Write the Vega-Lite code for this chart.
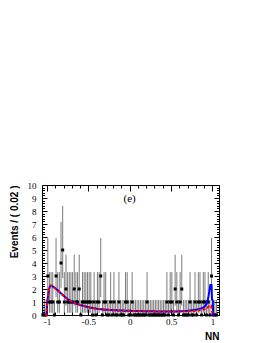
{
  "$schema": "https://vega.github.io/schema/vega-lite/v6.json",
  "width": 177,
  "height": 130,
  "autosize": "none",
  "padding": {"left": 42, "top": 185, "right": 46, "bottom": 28},
  "background": "white",
  "config": {
    "view": {"stroke": "black", "strokeWidth": 1},
    "axis": {"domain": false, "grid": false, "tickColor": "black", "tickWidth": 1, "labelFont": "Liberation Serif", "labelFontSize": 9, "labelColor": "black", "titleFont": "Liberation Sans", "titleFontWeight": "bold", "titleFontSize": 10, "titleColor": "black", "labelOverlap": false, "labelFlush": false}
  },
  "datasets": {
    "bins": [
      {"nn":-1.05,"n":0,"lo":0,"hi":1.15},{"nn":-1.03,"n":0,"lo":0,"hi":1.15},{"nn":-1.01,"n":0,"lo":0,"hi":1.15},
      {"nn":-0.99,"n":3,"lo":1.37,"hi":5.92},{"nn":-0.97,"n":1,"lo":0.17,"hi":3.3},{"nn":-0.95,"n":1,"lo":0.17,"hi":3.3},
      {"nn":-0.93,"n":1,"lo":0.17,"hi":3.3},{"nn":-0.91,"n":0,"lo":0,"hi":1.15},{"nn":-0.89,"n":3,"lo":1.37,"hi":5.92},
      {"nn":-0.87,"n":1,"lo":0.17,"hi":3.3},{"nn":-0.85,"n":1,"lo":0.17,"hi":3.3},{"nn":-0.83,"n":4,"lo":2.09,"hi":7.16},
      {"nn":-0.81,"n":5,"lo":2.84,"hi":8.38},{"nn":-0.79,"n":1,"lo":0.17,"hi":3.3},{"nn":-0.77,"n":2,"lo":0.71,"hi":4.64},
      {"nn":-0.75,"n":1,"lo":0.17,"hi":3.3},{"nn":-0.73,"n":1,"lo":0.17,"hi":3.3},{"nn":-0.71,"n":1,"lo":0.17,"hi":3.3},
      {"nn":-0.69,"n":1,"lo":0.17,"hi":3.3},{"nn":-0.67,"n":2,"lo":0.71,"hi":4.64},{"nn":-0.65,"n":1,"lo":0.17,"hi":3.3},
      {"nn":-0.63,"n":1,"lo":0.17,"hi":3.3},{"nn":-0.61,"n":2,"lo":0.71,"hi":4.64},{"nn":-0.59,"n":0,"lo":0,"hi":1.15},
      {"nn":-0.57,"n":1,"lo":0.17,"hi":3.3},{"nn":-0.55,"n":1,"lo":0.17,"hi":3.3},{"nn":-0.53,"n":1,"lo":0.17,"hi":3.3},
      {"nn":-0.51,"n":1,"lo":0.17,"hi":3.3},{"nn":-0.49,"n":1,"lo":0.17,"hi":3.3},{"nn":-0.47,"n":1,"lo":0.17,"hi":3.3},
      {"nn":-0.45,"n":0,"lo":0,"hi":1.15},{"nn":-0.43,"n":1,"lo":0.17,"hi":3.3},{"nn":-0.41,"n":0,"lo":0,"hi":1.15},
      {"nn":-0.39,"n":1,"lo":0.17,"hi":3.3},{"nn":-0.37,"n":1,"lo":0.17,"hi":3.3},{"nn":-0.35,"n":3,"lo":1.37,"hi":5.92},
      {"nn":-0.33,"n":0,"lo":0,"hi":1.15},{"nn":-0.31,"n":1,"lo":0.17,"hi":3.3},{"nn":-0.29,"n":1,"lo":0.17,"hi":3.3},
      {"nn":-0.27,"n":0,"lo":0,"hi":1.15},{"nn":-0.25,"n":0,"lo":0,"hi":1.15},{"nn":-0.23,"n":1,"lo":0.17,"hi":3.3},
      {"nn":-0.21,"n":0,"lo":0,"hi":1.15},{"nn":-0.19,"n":1,"lo":0.17,"hi":3.3},{"nn":-0.17,"n":0,"lo":0,"hi":1.15},
      {"nn":-0.15,"n":0,"lo":0,"hi":1.15},{"nn":-0.13,"n":1,"lo":0.17,"hi":3.3},{"nn":-0.11,"n":0,"lo":0,"hi":1.15},
      {"nn":-0.09,"n":0,"lo":0,"hi":1.15},{"nn":-0.07,"n":0,"lo":0,"hi":1.15},{"nn":-0.05,"n":1,"lo":0.17,"hi":3.3},
      {"nn":-0.03,"n":1,"lo":0.17,"hi":3.3},{"nn":-0.01,"n":0,"lo":0,"hi":1.15},{"nn":0.01,"n":0,"lo":0,"hi":1.15},
      {"nn":0.03,"n":1,"lo":0.17,"hi":3.3},{"nn":0.05,"n":0,"lo":0,"hi":1.15},{"nn":0.07,"n":0,"lo":0,"hi":1.15},
      {"nn":0.09,"n":0,"lo":0,"hi":1.15},{"nn":0.11,"n":0,"lo":0,"hi":1.15},{"nn":0.13,"n":0,"lo":0,"hi":1.15},
      {"nn":0.15,"n":0,"lo":0,"hi":1.15},{"nn":0.17,"n":0,"lo":0,"hi":1.15},{"nn":0.19,"n":0,"lo":0,"hi":1.15},
      {"nn":0.21,"n":1,"lo":0.17,"hi":3.3},{"nn":0.23,"n":0,"lo":0,"hi":1.15},{"nn":0.25,"n":0,"lo":0,"hi":1.15},
      {"nn":0.27,"n":0,"lo":0,"hi":1.15},{"nn":0.29,"n":0,"lo":0,"hi":1.15},{"nn":0.31,"n":0,"lo":0,"hi":1.15},
      {"nn":0.33,"n":0,"lo":0,"hi":1.15},{"nn":0.35,"n":0,"lo":0,"hi":1.15},{"nn":0.37,"n":0,"lo":0,"hi":1.15},
      {"nn":0.39,"n":0,"lo":0,"hi":1.15},{"nn":0.41,"n":0,"lo":0,"hi":1.15},{"nn":0.43,"n":0,"lo":0,"hi":1.15},
      {"nn":0.45,"n":1,"lo":0.17,"hi":3.3},{"nn":0.47,"n":0,"lo":0,"hi":1.15},{"nn":0.49,"n":1,"lo":0.17,"hi":3.3},
      {"nn":0.51,"n":1,"lo":0.17,"hi":3.3},{"nn":0.53,"n":0,"lo":0,"hi":1.15},{"nn":0.55,"n":2,"lo":0.71,"hi":4.64},
      {"nn":0.57,"n":1,"lo":0.17,"hi":3.3},{"nn":0.59,"n":0,"lo":0,"hi":1.15},{"nn":0.61,"n":1,"lo":0.17,"hi":3.3},
      {"nn":0.63,"n":2,"lo":0.71,"hi":4.64},{"nn":0.65,"n":0,"lo":0,"hi":1.15},{"nn":0.67,"n":0,"lo":0,"hi":1.15},
      {"nn":0.69,"n":0,"lo":0,"hi":1.15},{"nn":0.71,"n":0,"lo":0,"hi":1.15},{"nn":0.73,"n":1,"lo":0.17,"hi":3.3},
      {"nn":0.75,"n":0,"lo":0,"hi":1.15},{"nn":0.77,"n":0,"lo":0,"hi":1.15},{"nn":0.79,"n":1,"lo":0.17,"hi":3.3},
      {"nn":0.81,"n":0,"lo":0,"hi":1.15},{"nn":0.83,"n":1,"lo":0.17,"hi":3.3},{"nn":0.85,"n":1,"lo":0.17,"hi":3.3},
      {"nn":0.87,"n":0,"lo":0,"hi":1.15},{"nn":0.89,"n":1,"lo":0.17,"hi":3.3},{"nn":0.91,"n":1,"lo":0.17,"hi":3.3},
      {"nn":0.93,"n":0,"lo":0,"hi":1.15},{"nn":0.95,"n":1,"lo":0.17,"hi":3.3},{"nn":0.97,"n":0,"lo":0,"hi":1.15},
      {"nn":0.99,"n":3,"lo":1.37,"hi":5.92},{"nn":1.01,"n":0,"lo":0,"hi":1.15},{"nn":1.03,"n":0,"lo":0,"hi":1.15},
      {"nn":1.05,"n":0,"lo":0,"hi":1.15}
    ],
    "curves": [
      {"series":"total","x":-1.02,"y":0},{"series":"total","x":-1.005,"y":0},{"series":"total","x":-0.995,"y":1.1},
      {"series":"total","x":-0.975,"y":2.0},{"series":"total","x":-0.96,"y":2.25},{"series":"total","x":-0.94,"y":2.25},
      {"series":"total","x":-0.9,"y":2.05},{"series":"total","x":-0.86,"y":1.85},{"series":"total","x":-0.82,"y":1.6},
      {"series":"total","x":-0.78,"y":1.38},{"series":"total","x":-0.74,"y":1.18},{"series":"total","x":-0.7,"y":1.02},
      {"series":"total","x":-0.65,"y":0.88},{"series":"total","x":-0.6,"y":0.77},{"series":"total","x":-0.5,"y":0.6},
      {"series":"total","x":-0.4,"y":0.48},{"series":"total","x":-0.3,"y":0.41},{"series":"total","x":-0.2,"y":0.37},
      {"series":"total","x":-0.1,"y":0.34},{"series":"total","x":0,"y":0.32},{"series":"total","x":0.2,"y":0.29},
      {"series":"total","x":0.4,"y":0.27},{"series":"total","x":0.6,"y":0.28},{"series":"total","x":0.7,"y":0.32},
      {"series":"total","x":0.8,"y":0.4},{"series":"total","x":0.86,"y":0.5},{"series":"total","x":0.9,"y":0.6},
      {"series":"total","x":0.93,"y":0.85},{"series":"total","x":0.95,"y":1.3},{"series":"total","x":0.965,"y":1.9},
      {"series":"total","x":0.975,"y":2.3},{"series":"total","x":0.99,"y":2.3},{"series":"total","x":0.995,"y":1.2},
      {"series":"total","x":1.005,"y":1.1},{"series":"total","x":1.01,"y":0},{"series":"total","x":1.03,"y":0},
      {"series":"component","x":-1.02,"y":0},{"series":"component","x":-1.005,"y":0},{"series":"component","x":-0.995,"y":1.1},
      {"series":"component","x":-0.975,"y":2.0},{"series":"component","x":-0.96,"y":2.25},{"series":"component","x":-0.94,"y":2.25},
      {"series":"component","x":-0.9,"y":2.05},{"series":"component","x":-0.86,"y":1.85},{"series":"component","x":-0.82,"y":1.6},
      {"series":"component","x":-0.78,"y":1.38},{"series":"component","x":-0.74,"y":1.18},{"series":"component","x":-0.7,"y":1.02},
      {"series":"component","x":-0.65,"y":0.88},{"series":"component","x":-0.6,"y":0.77},{"series":"component","x":-0.5,"y":0.6},
      {"series":"component","x":-0.4,"y":0.48},{"series":"component","x":-0.3,"y":0.41},{"series":"component","x":-0.2,"y":0.37},
      {"series":"component","x":-0.1,"y":0.34},{"series":"component","x":0,"y":0.32},{"series":"component","x":0.2,"y":0.29},
      {"series":"component","x":0.4,"y":0.27},{"series":"component","x":0.6,"y":0.27},{"series":"component","x":0.8,"y":0.32},
      {"series":"component","x":0.9,"y":0.42},{"series":"component","x":0.94,"y":0.55},{"series":"component","x":0.96,"y":0.7},
      {"series":"component","x":0.985,"y":0.72},{"series":"component","x":0.995,"y":0.3},{"series":"component","x":1.005,"y":0}
    ],
    "labels": [{"x": 0.0, "y": 8.7, "text": "(e)"}]
  },
  "layer": [
    {
      "data": {"name": "bins"},
      "mark": {"type": "rule", "color": "#222222", "strokeWidth": 0.6},
      "encoding": {
        "x": {"field": "nn", "type": "quantitative", "scale": {"domain": [-1.06, 1.08], "nice": false, "zero": false},
          "axis": {"orient": "bottom", "title": "NN", "titleAnchor": "end", "titleAlign": "right", "titleBaseline": "alphabetic", "titleX": 177, "titleY": 24,
            "values": [-1,-0.9,-0.8,-0.7,-0.6,-0.5,-0.4,-0.3,-0.2,-0.1,0,0.1,0.2,0.3,0.4,0.5,0.6,0.7,0.8,0.9,1],
            "tickSize": {"condition": {"test": "abs(datum.value*2 - round(datum.value*2)) < 0.001", "value": -6}, "value": -3},
            "labelPadding": 8,
            "labelExpr": "abs(datum.value*2 - round(datum.value*2)) < 0.001 ? replace(format(datum.value, '~g'), '\u2212', '-') : ''"}},
        "y": {"field": "lo", "type": "quantitative", "scale": {"domain": [0, 10], "nice": false},
          "axis": {"orient": "left", "title": "Events / ( 0.02 )", "titleAngle": -90, "titleAlign": "right", "titleBaseline": "alphabetic", "titleX": -25, "titleY": 0,
            "values": [0,0.2,0.4,0.6,0.8,1,1.2,1.4,1.6,1.8,2,2.2,2.4,2.6,2.8,3,3.2,3.4,3.6,3.8,4,4.2,4.4,4.6,4.8,5,5.2,5.4,5.6,5.8,6,6.2,6.4,6.6,6.8,7,7.2,7.4,7.6,7.8,8,8.2,8.4,8.6,8.8,9,9.2,9.4,9.6,9.8,10],
            "tickSize": {"condition": {"test": "abs(datum.value - round(datum.value)) < 0.001", "value": -5}, "value": -2.5},
            "labelPadding": 11,
            "labelExpr": "abs(datum.value - round(datum.value)) < 0.001 ? format(datum.value, 'd') : ''"}},
        "y2": {"field": "hi"}
      }
    },
    {
      "data": {"name": "bins"},
      "mark": {"type": "square", "size": 9, "color": "black", "opacity": 1},
      "encoding": {
        "x": {"field": "nn", "type": "quantitative", "axis": null},
        "y": {"field": "n", "type": "quantitative", "axis": null}
      }
    },
    {
      "data": {"name": "curves"},
      "mark": {"type": "line", "strokeWidth": 2},
      "encoding": {
        "x": {"field": "x", "type": "quantitative",
          "axis": {"orient": "top", "title": null, "labels": false,
            "values": [-1,-0.9,-0.8,-0.7,-0.6,-0.5,-0.4,-0.3,-0.2,-0.1,0,0.1,0.2,0.3,0.4,0.5,0.6,0.7,0.8,0.9,1],
            "tickSize": {"condition": {"test": "abs(datum.value*2 - round(datum.value*2)) < 0.001", "value": -6}, "value": -3}}},
        "y": {"field": "y", "type": "quantitative",
          "axis": {"orient": "right", "title": null, "labels": false,
            "values": [0,0.2,0.4,0.6,0.8,1,1.2,1.4,1.6,1.8,2,2.2,2.4,2.6,2.8,3,3.2,3.4,3.6,3.8,4,4.2,4.4,4.6,4.8,5,5.2,5.4,5.6,5.8,6,6.2,6.4,6.6,6.8,7,7.2,7.4,7.6,7.8,8,8.2,8.4,8.6,8.8,9,9.2,9.4,9.6,9.8,10],
            "tickSize": {"condition": {"test": "abs(datum.value - round(datum.value)) < 0.001", "value": -5}, "value": -2.5}}},
        "color": {"field": "series", "type": "nominal", "scale": {"domain": ["total", "component"], "range": ["#0000ff", "#ff0000"]}, "legend": null},
        "strokeDash": {"field": "series", "type": "nominal", "scale": {"domain": ["total", "component"], "range": [[1, 0], [3, 2]]}, "legend": null},
        "strokeWidth": {"field": "series", "type": "nominal", "scale": {"domain": ["total", "component"], "range": [2, 1.5]}, "legend": null},
        "order": {"field": "x", "type": "quantitative"}
      }
    },
    {
      "data": {"name": "labels"},
      "mark": {"type": "text", "font": "Liberation Serif", "fontSize": 11, "align": "center", "baseline": "alphabetic", "fill": "black"},
      "encoding": {
        "x": {"field": "x", "type": "quantitative", "axis": null},
        "y": {"field": "y", "type": "quantitative", "axis": null},
        "text": {"field": "text"}
      }
    }
  ],
  "resolve": {"axis": {"x": "independent", "y": "independent"}}
}
